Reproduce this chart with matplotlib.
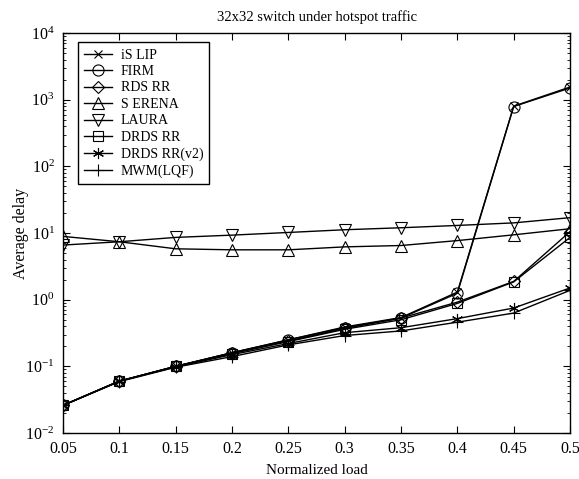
import matplotlib
matplotlib.use("Agg")
import matplotlib.pyplot as plt
from matplotlib.ticker import LogLocator, NullFormatter

plt.rcParams['font.family'] = ['Liberation Serif', 'DejaVu Serif']
plt.rcParams['mathtext.fontset'] = 'stix'

load = [0.05, 0.1, 0.15, 0.2, 0.25, 0.3, 0.35, 0.4, 0.45, 0.5]

islip = [0.026, 0.060, 0.10, 0.16, 0.25, 0.39, 0.54, 1.30, 800, 1550]
firm = [0.026, 0.060, 0.10, 0.16, 0.25, 0.38, 0.53, 1.25, 790, 1500]
rdsrr = [0.026, 0.060, 0.10, 0.16, 0.24, 0.37, 0.53, 0.92, 1.88, 10.5]
serena = [8.9, 7.4, 5.8, 5.6, 5.6, 6.2, 6.5, 7.7, 9.4, 11.6]
laura = [6.6, 7.4, 8.6, 9.3, 10.2, 11.2, 12.0, 13.0, 14.2, 17.0]
drdsrr = [0.026, 0.060, 0.10, 0.155, 0.235, 0.36, 0.50, 0.88, 1.85, 8.6]
drdsrr_v2 = [0.026, 0.060, 0.098, 0.15, 0.22, 0.32, 0.38, 0.52, 0.75, 1.5]
mwm = [0.026, 0.059, 0.097, 0.14, 0.21, 0.29, 0.34, 0.46, 0.63, 1.38]

# asterisk marker for DRDSRR(v2)
series = [
    ("iS LIP", islip, "x", 6),
    ("FIRM", firm, "o", 8),
    ("RDS RR", rdsrr, "D", 6.5),
    ("S ERENA", serena, "^", 8.5),
    ("LAURA", laura, "v", 8.5),
    ("DRDS RR", drdsrr, "s", 7.5),
    ("DRDS RR(v2)", drdsrr_v2, (6, 2, 0), 8),
    ("MWM(LQF)", mwm, "+", 9),
]

fig = plt.figure(figsize=(5.79, 4.79), dpi=100)
ax = fig.add_axes([0.1088, 0.096, 0.8757, 0.835])

for label, vals, m, ms in series:
    ax.plot(load, vals, color="black", linewidth=1.0, marker=m, markersize=ms,
            markerfacecolor="none", markeredgecolor="black", markeredgewidth=0.8,
            label=label)

ax.set_yscale("log")
ax.set_xlim(0.05, 0.5)
ax.set_ylim(1e-2, 1e4)
ax.set_xticks(load)
ax.set_xticklabels(["0.05", "0.1", "0.15", "0.2", "0.25", "0.3", "0.35", "0.4", "0.45", "0.5"])
ax.yaxis.set_major_locator(LogLocator(base=10, numticks=10))
ax.yaxis.set_minor_locator(LogLocator(base=10, subs=range(2, 10), numticks=20))
ax.yaxis.set_minor_formatter(NullFormatter())
ax.tick_params(which="both", direction="in", top=True, right=True, labelsize=11.5)
ax.tick_params(axis="x", pad=6)
ax.tick_params(axis="y", pad=6)
ax.tick_params(which="major", length=5)
ax.tick_params(which="minor", length=2.5)
for s in ax.spines.values():
    s.set_linewidth(1.0)

ax.set_xlabel("Normalized load", fontsize=11, labelpad=5)
ax.set_ylabel("Average delay", fontsize=11.5, labelpad=-3)
ax.set_title("32x32 switch under hotspot traffic", fontsize=10.5, pad=9)

leg = ax.legend(loc="upper left", bbox_to_anchor=(0.03, 0.977), borderaxespad=0,
                fontsize=10, fancybox=False, edgecolor="black", framealpha=1,
                handlelength=2.0, labelspacing=0.25, borderpad=0.45, handletextpad=0.6)
leg.get_frame().set_linewidth(1.0)

fig.savefig("out.png", dpi=100)
